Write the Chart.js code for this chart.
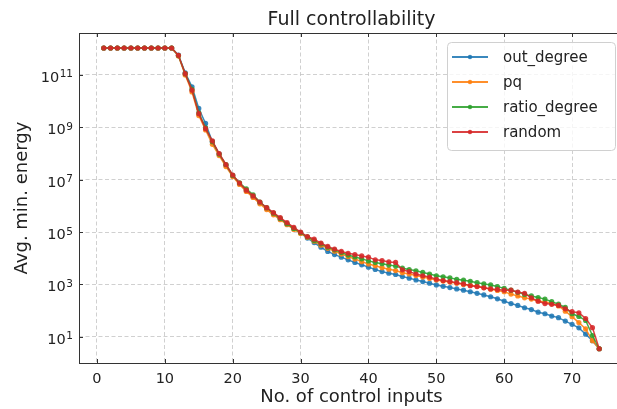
<!DOCTYPE html>
<html>
<head>
<meta charset="utf-8">
<script src="https://cdn.jsdelivr.net/npm/chart.js@4.4.0/dist/chart.umd.min.js"></script>
<style>
  html, body { margin: 0; padding: 0; background: #fff; overflow: hidden; }
  #wrap { width: 630px; height: 409px; }
</style>
</head>
<body>
<div id="wrap"><canvas id="chart" width="630" height="409"></canvas></div>
<script>
// number of control inputs (x)
const inputs = [1, 2, 3, 4, 5, 6, 7, 8, 9, 10, 11, 12, 13, 14, 15, 16, 17, 18, 19, 20,
  21, 22, 23, 24, 25, 26, 27, 28, 29, 30, 31, 32, 33, 34, 35, 36, 37, 38, 39, 40,
  41, 42, 43, 44, 45, 46, 47, 48, 49, 50, 51, 52, 53, 54, 55, 56, 57, 58, 59, 60,
  61, 62, 63, 64, 65, 66, 67, 68, 69, 70, 71, 72, 73, 74];

// avg. min. energy
const outDegree = [1.07e12, 1.07e12, 1.07e12, 1.07e12, 1.07e12, 1.07e12, 1.07e12, 1.07e12, 1.07e12, 1.07e12, 1.07e12,
  5.75e11, 1.2e11, 3.55e10, 5.25e9, 1.41e9, 2.82e8, 9.55e7, 3.55e7, 1.41e7,
  7.08e6, 3.8e6, 2.24e6, 1.32e6, 7.94e5, 5.01e5, 3.16e5, 2.0e5, 1.35e5, 9.33e4,
  5.89e4, 3.98e4, 2.63e4, 1.82e4, 1.38e4, 1.1e4, 8710, 6920, 5620, 4570,
  3720, 3090, 2690, 2400, 2000, 1740, 1480, 1290, 1120, 955,
  851, 759, 676, 603, 525, 457, 398, 339, 282, 229,
  186, 158, 129, 110, 87, 76, 62, 54, 40, 30, 22, 12.6, 7.1, 3.5];

const pq = [1.07e12, 1.07e12, 1.07e12, 1.07e12, 1.07e12, 1.07e12, 1.07e12, 1.07e12, 1.07e12, 1.07e12, 1.07e12,
  5.25e11, 1.0e11, 2.24e10, 2.82e9, 7.94e8, 2.24e8, 8.32e7, 3.16e7, 1.32e7,
  6.61e6, 3.55e6, 2.09e6, 1.2e6, 7.24e5, 4.57e5, 2.95e5, 1.91e5, 1.26e5, 8.91e4,
  6.31e4, 4.47e4, 3.16e4, 2.4e4, 1.86e4, 1.45e4, 1.15e4, 9330, 7410, 6030,
  5130, 4370, 3800, 3390, 2820, 2510, 2190, 1910, 1700, 1480,
  1350, 1230, 1100, 1000, 933, 851, 759, 661, 589, 525,
  427, 363, 309, 275, 234, 214, 186, 151, 95, 59, 35, 20, 7.1, 3.5];

const ratioDegree = [1.07e12, 1.07e12, 1.07e12, 1.07e12, 1.07e12, 1.07e12, 1.07e12, 1.07e12, 1.07e12, 1.07e12, 1.07e12,
  5.5e11, 1.12e11, 2.82e10, 3.55e9, 9.55e8, 2.82e8, 9.55e7, 3.8e7, 1.45e7,
  7.59e6, 4.47e6, 2.63e6, 1.41e6, 8.51e5, 5.25e5, 3.31e5, 2.09e5, 1.38e5, 9.55e4,
  6.61e4, 4.79e4, 3.55e4, 2.63e4, 2.09e4, 1.66e4, 1.32e4, 1.12e4, 9550, 7940,
  6920, 6170, 5500, 5010, 4170, 3720, 3310, 2880, 2510, 2140,
  1950, 1780, 1580, 1450, 1320, 1170, 1050, 955, 832, 708,
  603, 501, 417, 363, 316, 275, 219, 178, 132, 76, 60, 42, 11.2, 3.5];

const randomSel = [1.07e12, 1.07e12, 1.07e12, 1.07e12, 1.07e12, 1.07e12, 1.07e12, 1.07e12, 1.07e12, 1.07e12, 1.07e12,
  5.62e11, 1.12e11, 2.63e10, 3.31e9, 8.91e8, 3.02e8, 1.0e8, 3.8e7, 1.51e7,
  7.41e6, 3.98e6, 2.4e6, 1.41e6, 8.51e5, 5.5e5, 3.55e5, 2.29e5, 1.51e5, 1.0e5,
  6.76e4, 5.37e4, 3.8e4, 2.82e4, 2.24e4, 1.82e4, 1.55e4, 1.38e4, 1.23e4, 1.1e4,
  8710, 8130, 7240, 6920, 3630, 3090, 2510, 2140, 1910, 1580,
  1410, 1290, 1170, 1050, 891, 832, 741, 676, 646, 603,
  603, 513, 457, 309, 229, 186, 174, 158, 117, 91, 83, 50, 22.4, 3.5];

const seriesLabels = ['out_degree', 'pq', 'ratio_degree', 'random'];
const seriesColors = ['rgba(31,119,180,0.88)', 'rgba(255,127,14,0.88)', 'rgba(44,160,44,0.88)', 'rgba(214,39,40,0.88)'];

const xTicks = [0, 10, 20, 30, 40, 50, 60, 70];
const yTicks = [1e1, 1e3, 1e5, 1e7, 1e9, 1e11];
const yTickExponents = ['1', '3', '5', '7', '9', '11'];

const FONT = '"DejaVu Sans", "Liberation Sans", sans-serif';

const toPoints = vals => vals.map((v, i) => ({ x: inputs[i], y: v }));

// spines, inward ticks, 10^n labels, title and legend box
const decor = {
  id: 'decor',
  afterDraw(chart) {
    const { ctx, chartArea: a, scales: { x, y } } = chart;
    ctx.save();
    ctx.setLineDash([]);
    ctx.strokeStyle = '#333';
    ctx.lineWidth = 1;
    ctx.strokeRect(a.left + 0.5, a.top + 0.5, a.right - a.left, a.bottom - a.top);

    ctx.beginPath();
    xTicks.forEach(v => {
      const px = Math.round(x.getPixelForValue(v)) + 0.5;
      ctx.moveTo(px, a.bottom); ctx.lineTo(px, a.bottom - 4);
      ctx.moveTo(px, a.top); ctx.lineTo(px, a.top + 4);
    });
    yTicks.forEach(v => {
      const py = Math.round(y.getPixelForValue(v)) + 0.5;
      ctx.moveTo(a.left, py); ctx.lineTo(a.left + 4, py);
    });
    ctx.stroke();

    // y tick labels as 10 with a raised exponent
    ctx.fillStyle = '#222';
    ctx.textAlign = 'right';
    ctx.textBaseline = 'alphabetic';
    yTicks.forEach((v, i) => {
      const py = y.getPixelForValue(v);
      const right = a.left - 6;
      ctx.font = '10.5px ' + FONT;
      const ew = ctx.measureText(yTickExponents[i]).width;
      ctx.fillText(yTickExponents[i], right, py + 2.5);
      ctx.font = '14.5px ' + FONT;
      ctx.fillText('10', right - ew - 0.5, py + 7);
    });

    // title
    ctx.font = '19px ' + FONT;
    ctx.textAlign = 'center';
    ctx.fillText('Full controllability', (a.left + a.right) / 2, 25);

    // legend
    const lx = 447, ly = 42, lw = 168, lh = 108;
    ctx.fillStyle = 'rgba(255,255,255,0.8)';
    ctx.strokeStyle = '#d0d0d0';
    ctx.beginPath();
    ctx.roundRect(lx + 0.5, ly + 0.5, lw, lh, 4);
    ctx.fill();
    ctx.stroke();

    ctx.font = '15px ' + FONT;
    ctx.textAlign = 'left';
    ctx.textBaseline = 'middle';
    seriesLabels.forEach((lab, i) => {
      const cy = 57 + i * 25;
      ctx.strokeStyle = seriesColors[i];
      ctx.lineWidth = 2;
      ctx.beginPath();
      ctx.moveTo(452, cy); ctx.lineTo(488, cy);
      ctx.stroke();
      ctx.fillStyle = seriesColors[i];
      ctx.beginPath();
      ctx.arc(470, cy, 2.2, 0, Math.PI * 2);
      ctx.fill();
      ctx.fillStyle = '#222';
      ctx.fillText(lab, 503, cy + 1);
    });
    ctx.restore();
  }
};

const datasets = [outDegree, pq, ratioDegree, randomSel].map((vals, i) => ({
  label: seriesLabels[i],
  data: toPoints(vals),
  borderColor: seriesColors[i],
  backgroundColor: seriesColors[i],
  borderWidth: 1.5,
  pointRadius: 2.6,
  pointBorderWidth: 0,
  pointHoverRadius: 2.6,
  tension: 0,
  order: 3 - i
}));

new Chart(document.getElementById('chart'), {
  type: 'line',
  data: { datasets },
  options: {
    responsive: false,
    animation: false,
    devicePixelRatio: 1,
    layout: { padding: { top: 33, right: 6, left: 0, bottom: 0 } },
    plugins: {
      legend: { display: false },
      title: { display: false },
      tooltip: { enabled: false }
    },
    scales: {
      x: {
        type: 'linear',
        min: -2.65,
        max: 77.65,
        afterBuildTicks: s => { s.ticks = xTicks.map(v => ({ value: v })); },
        afterFit: s => { s.height = 46; },
        ticks: { color: '#222', font: { family: FONT, size: 14.5 }, padding: 8, autoSkip: false, maxRotation: 0 },
        grid: { color: '#c4c4c4', lineWidth: 0.8, drawTicks: false },
        border: { display: false, dash: [4, 2.5] },
        title: { display: true, text: 'No. of control inputs', color: '#222', font: { family: FONT, size: 18 }, padding: { top: 0, bottom: 1 } }
      },
      y: {
        type: 'logarithmic',
        min: 1,
        max: 4e12,
        afterBuildTicks: s => { s.ticks = yTicks.map(v => ({ value: v })); },
        afterFit: s => { s.width = 79; },
        ticks: { display: false },
        grid: { color: '#c4c4c4', lineWidth: 0.8, drawTicks: false },
        border: { display: false, dash: [4, 2.5] },
        title: { display: true, text: 'Avg. min. energy', color: '#222', font: { family: FONT, size: 18 }, padding: { top: 12, bottom: 0 } }
      }
    }
  },
  plugins: [decor]
});
</script>
</body>
</html>
